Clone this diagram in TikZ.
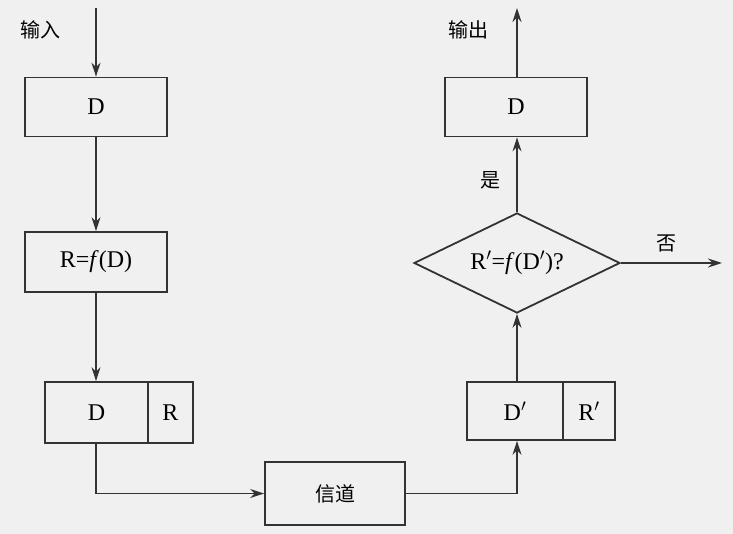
\documentclass[tikz,border=0pt]{standalone}
\usepackage{fontspec}
\setmainfont{Liberation Serif}
\newfontfamily\cjk{Noto Sans CJK SC}
\usetikzlibrary{shapes.geometric,arrows.meta}
\begin{document}
\begin{tikzpicture}[x=1pt,y=-1pt,
  bx/.style={draw=black!80,line width=1.8pt,inner sep=0pt},
  ar/.style={draw=black!80,line width=1.6pt,-{Stealth[length=14pt,width=9pt]}},
  tx/.style={font=\fontsize{24}{28}\selectfont},
  cj/.style={font=\cjk\fontsize{20}{24}\selectfont}]
\fill[black!6] (0,0) rectangle (733,534);
\useasboundingbox (0,0) rectangle (733,534);
\node[cj] (in) at (40,30) {输入};
\coordinate (top1) at (96,8);
\node[bx,minimum width=142,minimum height=59,tx] (d1) at (96,107) {D};
\node[bx,minimum width=142,minimum height=60,tx] (rf) at (96,262) {R=\textit{f}(D)};
\node[bx,minimum width=103,minimum height=61,tx] (dl) at (96.5,412.5) {D};
\node[bx,minimum width=45,minimum height=61,tx] (rl) at (170.5,412.5) {R};
\node[bx,minimum width=140,minimum height=63,cj] (ch) at (335,493.5) {信道};
\node[bx,minimum width=96,minimum height=58,tx] (dr) at (515,411) {D$'$};
\node[bx,minimum width=52,minimum height=58,tx] (rr) at (589,411) {R$'$};
\node[bx,diamond,aspect=2.06,minimum width=206,minimum height=100,inner sep=0pt,tx] (dm) at (517,263) {R$'$=\textit{f}(D$'$)?};
\node[bx,minimum width=142,minimum height=59,tx] (d2) at (516,107) {D};
\node[cj] (out) at (468,30) {输出};
\coordinate (top2) at (517,8);
\node[cj] (yes) at (490,180) {是};
\node[cj] (no) at (666,243) {否};
\coordinate (noend) at (722,263);
\draw[ar] (top1) -- (d1.north);
\draw[ar] (d1.south) -- (rf.north);
\draw[ar] (rf.south) -- (dl.north -| rf.south);
\draw[ar] (dl.south -| rf.south) |- (ch.west);
\draw[ar] (ch.east) -| (dr.south -| dm.south);
\draw[ar] (dr.north -| dm.south) -- (dm.south);
\draw[ar] (dm.north) -- (d2.south -| dm.north);
\draw[ar] (d2.north -| dm.north) -- (top2);
\draw[ar] (dm.east) -- (noend);
\end{tikzpicture}
\end{document}
